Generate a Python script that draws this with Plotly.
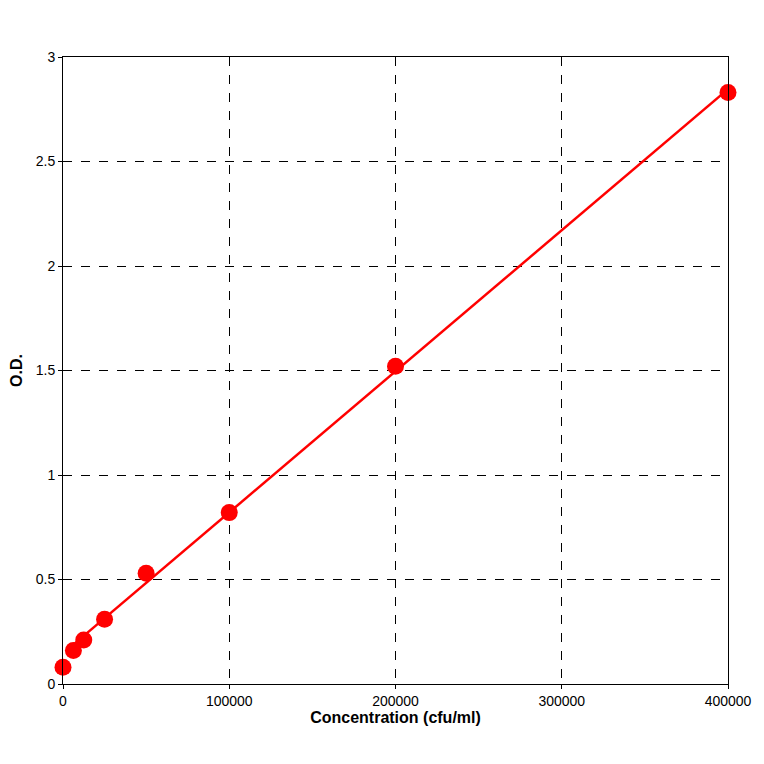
import numpy as np
import plotly.graph_objects as go

# standard curve data
conc = [0, 6250, 12500, 25000, 50000, 100000, 200000, 400000]
od = [0.08, 0.16, 0.21, 0.31, 0.53, 0.82, 1.52, 2.83]

x_ticks = [0, 100000, 200000, 300000, 400000]
y_ticks = [0, 0.5, 1, 1.5, 2, 2.5, 3]

# linear fit through the standards
slope, icpt = np.polyfit(conc[1:], od[1:], 1)
fit_x = np.array([conc[1], conc[-1]])
fit_y = slope * fit_x + icpt

fig = go.Figure()
fig.add_trace(go.Scatter(x=fit_x, y=fit_y, mode="lines",
                         line=dict(color="#ff0000", width=2.5), showlegend=False))
fig.add_trace(go.Scatter(x=conc, y=od, mode="markers", cliponaxis=False,
                         marker=dict(color="#ff0000", size=17), showlegend=False))

axis_common = dict(showgrid=True, gridcolor="black", griddash="dash", gridwidth=1,
                   showline=True, linecolor="black", linewidth=1, mirror=True,
                   zeroline=False, ticks="outside", ticklen=4, tickcolor="black",
                   automargin=False,
                   tickfont=dict(family="Liberation Sans", size=14, color="black"))

fig.update_xaxes(range=[0, 400000], tickvals=x_ticks, ticktext=[str(v) for v in x_ticks],
                 title=dict(text="<b>Concentration (cfu/ml)</b>", standoff=4,
                            font=dict(family="Liberation Sans", size=16, color="black")),
                 **axis_common)
fig.update_yaxes(range=[0, 3], tickvals=y_ticks, ticktext=[f"{v:g}" for v in y_ticks],
                 title=dict(text="<b>O.D.</b>", standoff=12,
                            font=dict(family="Liberation Sans", size=16, color="black")),
                 **axis_common)

fig.update_layout(width=764, height=764, plot_bgcolor="white", paper_bgcolor="white",
                  margin=dict(l=55, r=44, t=49, b=88, autoexpand=False))
fig.write_html("out.html")
